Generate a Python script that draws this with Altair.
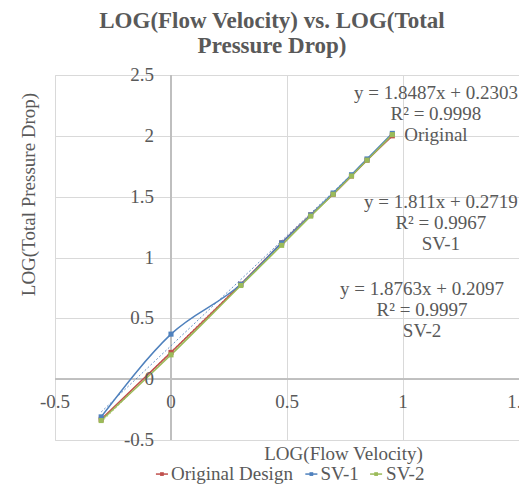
import altair as alt
import pandas as pd

# ---- data ----
log_velocity = [-0.301, 0.0, 0.301, 0.477, 0.602, 0.699, 0.778, 0.845, 0.954]
original_design = [-0.33, 0.22, 0.78, 1.12, 1.35, 1.52, 1.67, 1.80, 2.00]
sv_1 = [-0.31, 0.37, 0.78, 1.12, 1.35, 1.53, 1.68, 1.81, 2.02]
sv_2 = [-0.34, 0.20, 0.77, 1.10, 1.34, 1.52, 1.67, 1.80, 2.01]

series_names = ["Original Design", "SV-1", "SV-2"]
series_colors = ["#C0504D", "#4F81BD", "#9BBB59"]

x_tick_values = [-0.5, 0, 0.5, 1, 1.5]
x_tick_labels = ["-0.5", "0", "0.5", "1", "1.5"]
y_tick_values = [-0.5, 0, 0.5, 1, 1.5, 2, 2.5]
y_tick_labels = ["-0.5", "0", "0.5", "1", "1.5", "2", "2.5"]

equation_texts = [
    "y = 1.8487x + 0.2303\nR² = 0.9998\nOriginal",
    "y = 1.811x + 0.2719\nR² = 0.9967\nSV-1",
    "y = 1.8763x + 0.2097\nR² = 0.9997\nSV-2",
]
equation_x = [1.142, 1.163, 1.082]
equation_y = [2.354, 1.457, 0.741]

# legend entries (below the plot, in axis units)
legend_symbol_x = [-0.039, 0.605, 0.884]
legend_label_x = [0.0, 0.644, 0.927]
legend_row_y = -0.78

FONT = "Liberation Serif"
TEXT_COLOR = "#595959"

# ---- tables ----
rows = []
for name, vals in zip(series_names, [original_design, sv_1, sv_2]):
    for xv, yv in zip(log_velocity, vals):
        rows.append({"x": xv, "y": yv, "series": name})
df = pd.DataFrame(rows)

xticks_df = pd.DataFrame({"v": x_tick_values, "label": x_tick_labels})
yticks_df = pd.DataFrame({"v": y_tick_values, "label": y_tick_labels})
eq_df = pd.DataFrame({"x": equation_x, "y": equation_y, "text": equation_texts})
leg_df = pd.DataFrame({
    "series": series_names,
    "sx": legend_symbol_x,
    "sx1": [v - 0.026 for v in legend_symbol_x],
    "sx2": [v + 0.026 for v in legend_symbol_x],
    "lx": legend_label_x,
    "y": [legend_row_y] * 3,
})

xscale = alt.Scale(domain=[-0.5, 1.5], nice=False, zero=False)
yscale = alt.Scale(domain=[-0.5, 2.5], nice=False, zero=False)
cscale = alt.Scale(domain=series_names, range=series_colors)

# ---- grid layer with axis titles ----
grid = alt.Chart(xticks_df).mark_point(opacity=0).encode(
    x=alt.X("v:Q", scale=xscale,
            axis=alt.Axis(values=x_tick_values, labels=False, ticks=False, domain=False,
                          grid=True, gridColor="#d9d9d9", gridWidth=1,
                          title="LOG(Flow Velocity)", titleFont=FONT, titleFontSize=19,
                          titleFontWeight="normal", titleColor=TEXT_COLOR,
                          titleX=288, titleY=13, titleBaseline="middle", titleAlign="center")),
    y=alt.Y("v:Q", scale=yscale,
            axis=alt.Axis(values=y_tick_values, labels=False, ticks=False, domain=False,
                          grid=True, gridColor="#d9d9d9", gridWidth=1,
                          title="LOG(Total Pressure Drop)", titleFont=FONT, titleFontSize=19,
                          titleFontWeight="normal", titleColor=TEXT_COLOR,
                          titleX=-27, titleY=119, titleAngle=270,
                          titleBaseline="middle", titleAlign="center")),
)

zero_x = alt.Chart(xticks_df).mark_rule(color="#bfbfbf", strokeWidth=1.5).encode(
    x=alt.datum(0, scale=xscale))
zero_y = alt.Chart(xticks_df).mark_rule(color="#bfbfbf", strokeWidth=1.5).encode(
    y=alt.datum(0, scale=yscale))

trend = alt.Chart(df).transform_regression(
    "x", "y", groupby=["series"]
).mark_line(strokeDash=[2, 2], strokeWidth=1, opacity=0.85).encode(
    x=alt.X("x:Q", scale=xscale),
    y=alt.Y("y:Q", scale=yscale),
    color=alt.Color("series:N", scale=cscale, legend=None),
)

lines = alt.Chart(df).mark_line(interpolate="monotone", strokeWidth=1.5).encode(
    x=alt.X("x:Q", scale=xscale),
    y=alt.Y("y:Q", scale=yscale),
    color=alt.Color("series:N", scale=cscale, legend=None),
)

points = alt.Chart(df).mark_point(filled=True, size=26, opacity=1, shape="square").encode(
    x=alt.X("x:Q", scale=xscale),
    y=alt.Y("y:Q", scale=yscale),
    color=alt.Color("series:N", scale=cscale, legend=None),
)

xlabels = alt.Chart(xticks_df).mark_text(
    font=FONT, fontSize=19, color=TEXT_COLOR, align="center", baseline="middle", dy=23
).encode(x=alt.X("v:Q", scale=xscale), y=alt.datum(0, scale=yscale), text="label:N")

ylabels = alt.Chart(yticks_df).mark_text(
    font=FONT, fontSize=19, color=TEXT_COLOR, align="right", baseline="middle", dx=-17
).encode(y=alt.Y("v:Q", scale=yscale), x=alt.datum(0, scale=xscale), text="label:N")

equations = alt.Chart(eq_df).mark_text(
    font=FONT, fontSize=19, color=TEXT_COLOR, align="center", baseline="middle",
    lineBreak="\n", lineHeight=21
).encode(x=alt.X("x:Q", scale=xscale), y=alt.Y("y:Q", scale=yscale), text="text:N")

# ---- legend (line + marker, Excel style) ----
leg_lines = alt.Chart(leg_df).mark_rule(strokeWidth=1.5).encode(
    x=alt.X("sx1:Q", scale=xscale), x2="sx2:Q",
    y=alt.Y("y:Q", scale=yscale),
    color=alt.Color("series:N", scale=cscale, legend=None),
)
leg_marks = alt.Chart(leg_df).mark_point(filled=True, size=14, opacity=1, shape="square").encode(
    x=alt.X("sx:Q", scale=xscale),
    y=alt.Y("y:Q", scale=yscale),
    color=alt.Color("series:N", scale=cscale, legend=None),
)
leg_text = alt.Chart(leg_df).mark_text(
    font=FONT, fontSize=19, color=TEXT_COLOR, align="left", baseline="middle"
).encode(x=alt.X("lx:Q", scale=xscale), y=alt.Y("y:Q", scale=yscale), text="series:N")

chart = alt.layer(
    grid, zero_x, zero_y, trend, lines, points, xlabels, ylabels, equations,
    leg_lines, leg_marks, leg_text
).resolve_scale(
    x="shared", y="shared"
).properties(
    width=464, height=365,
    autosize=alt.AutoSizeParams(type="none"),
    padding={"left": 47, "top": 67, "right": 0, "bottom": 48},
    title=alt.TitleParams(
        text=["LOG(Flow Velocity) vs. LOG(Total", "Pressure Drop)"],
        font=FONT, fontSize=23, fontWeight="bold", color=TEXT_COLOR,
        anchor="middle", frame="group", dx=-15, dy=33, offset=18, baseline="bottom", lineHeight=25,
    ),
).configure_view(stroke=None).configure(background="white")

chart.save("out.html", embed_options={"renderer": "svg", "actions": False})
